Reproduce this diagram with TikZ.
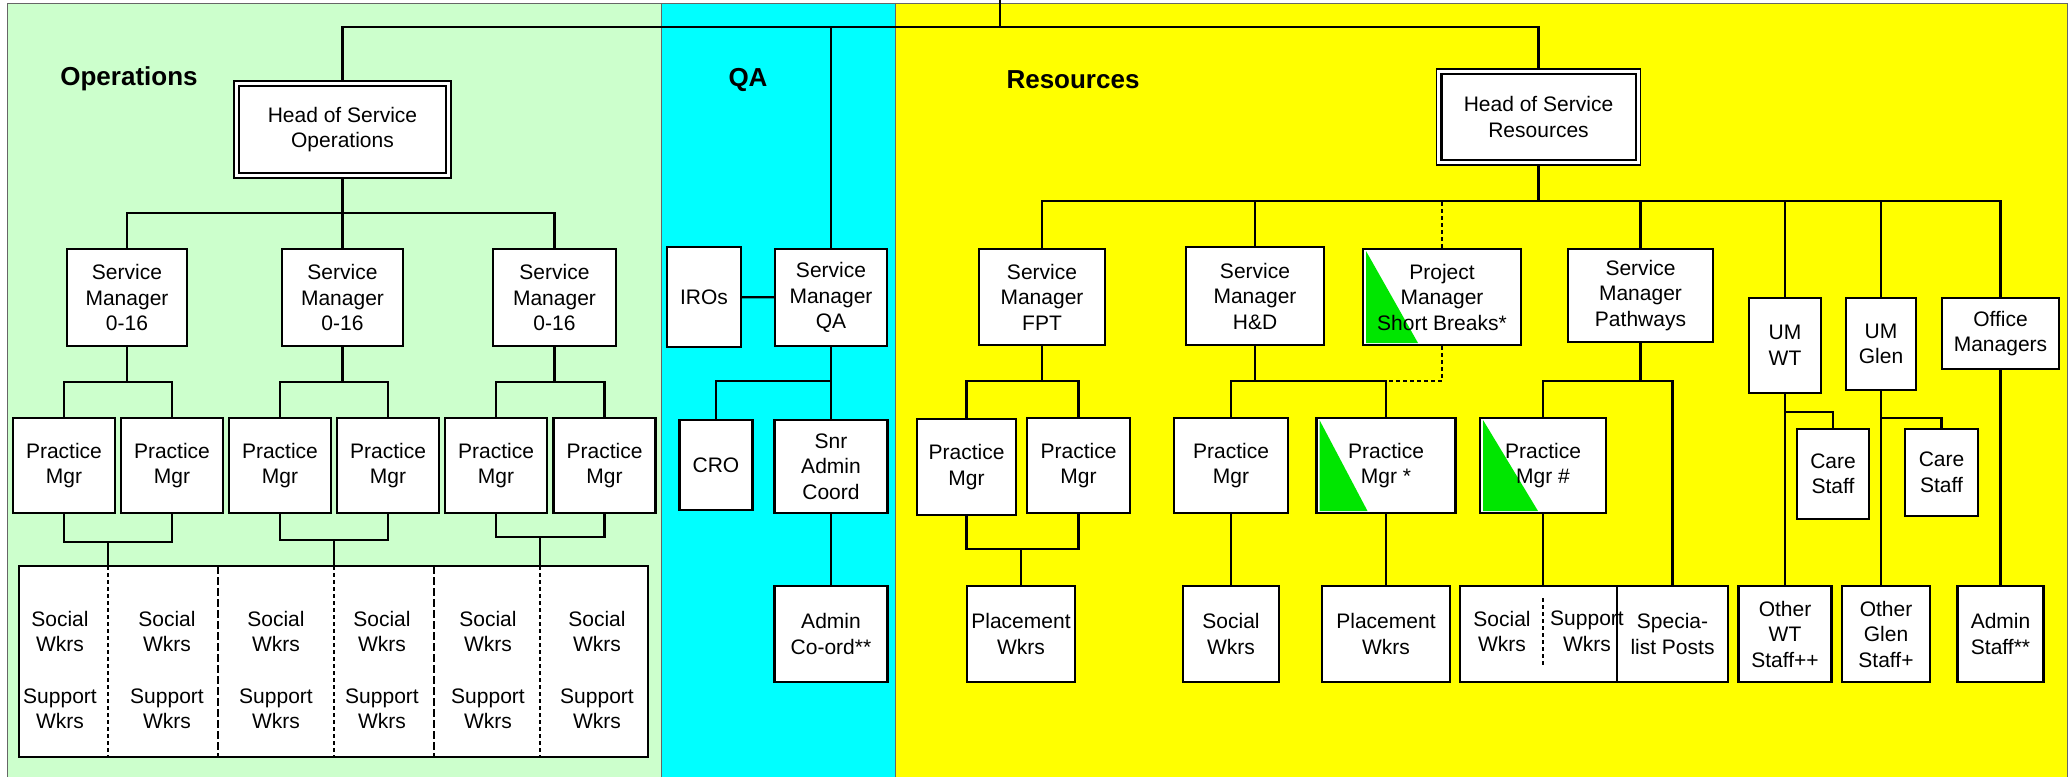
\documentclass[tikz,border=0pt]{standalone}
\usepackage{fontspec}
\setmainfont{Liberation Sans}
\usepackage{tikz}
\usetikzlibrary{positioning}
\definecolor{opsgreen}{RGB}{204,255,204}
\definecolor{qacyan}{RGB}{0,255,255}
\definecolor{resyellow}{RGB}{255,255,0}
\definecolor{partgreen}{RGB}{0,230,0}
\tikzset{
  bx/.style={draw, fill=white, align=center, inner sep=1pt, font=\fontsize{10.5}{12.75}\selectfont},
  hd/.style={bx, line width=0.6pt},
  lbl/.style={align=center, inner sep=0pt, font=\fontsize{10.5}{12.75}\selectfont},
  ttl/.style={inner sep=0pt, font=\fontsize{13}{15}\selectfont\bfseries},
  panel/.style={draw=black!60, line width=0.4pt},
  divs/.style={line width=0.7pt, dash pattern=on 2pt off 1.5pt},
  divl/.style={line width=0.8pt, dash pattern=on 4pt off 1.5pt},
  dsh/.style={dash pattern=on 2pt off 1.5pt},
  sz/.style 2 args={minimum width=#1, minimum height=#2},
  halfgreen/.style={path picture={\fill[partgreen] ([shift={(1.5pt,-1pt)}]path picture bounding box.north west) -- ([shift={(1.5pt,1pt)}]path picture bounding box.south west) -- ([shift={(#1,1pt)}]path picture bounding box.south west) -- cycle;}}
}
\begin{document}
\begin{tikzpicture}[x=0.5pt, y=-0.5pt, line width=1.1pt]
  \useasboundingbox (0,0) rectangle (2069,777);
  \fill[white] (0,0) rectangle (2069,777);
  \draw[panel, fill=opsgreen] (7,3) rectangle (661,780);
  \draw[panel, fill=qacyan] (661,3) rectangle (895.5,780);
  \draw[panel, fill=resyellow] (895.5,3) rectangle (2067,780);

  \node[ttl] (ops) at (129,79) {Operations};
  \node[ttl] (qa) at (748,80) {QA};
  \node[ttl] (res) at (1073,80) {Resources};

  \node[hd, sz={108.5pt}{48.5pt}] (hso) at (342.5,129.5) {Head of Service\\Operations};
  \draw[line width=1.2pt] ([shift={(2.7pt,-2.7pt)}]hso.north west) rectangle ([shift={(-2.7pt,2.7pt)}]hso.south east);
  \node[bx, sz={60pt}{48.5pt}] (sm1) at (127,297.5) {Service\\Manager\\0-16};
  \node[bx, sz={60.5pt}{48.5pt}] (sm2) at (342.5,297.5) {Service\\Manager\\0-16};
  \node[bx, sz={61.5pt}{48.5pt}] (sm3) at (554.5,297.5) {Service\\Manager\\0-16};
  \node[bx, sz={51pt}{47.5pt}] (pm1) at (64,465.5) {Practice\\Mgr};
  \node[bx, sz={51pt}{47.5pt}] (pm2) at (172,465.5) {Practice\\Mgr};
  \node[bx, sz={51pt}{47.5pt}] (pm3) at (280,465.5) {Practice\\Mgr};
  \node[bx, sz={51pt}{47.5pt}] (pm4) at (388,465.5) {Practice\\Mgr};
  \node[bx, sz={51pt}{47.5pt}] (pm5) at (496,465.5) {Practice\\Mgr};
  \node[bx, sz={51pt}{47.5pt}] (pm6) at (604.5,465.5) {Practice\\Mgr};
  \node[bx, sz={314.5pt}{95.5pt}] (wkops) at (333.5,661.5) {};
  \foreach \x in {108,334,540} \draw[divs] (\x,566) -- (\x,757);
  \foreach \x in {218,434} \draw[divl] (\x,566) -- (\x,757);
  \foreach \x/\n in {60/1,167/2,276/3,382/4,488/5,597/6}
    \node[lbl] (wk\n) at (\x,670) {Social\\Wkrs\\[13pt]Support\\Wkrs};

  \node[bx, sz={37pt}{50pt}] (iro) at (704,297) {IROs};
  \node[bx, sz={56pt}{48.5pt}] (smqa) at (831,297.5) {Service\\Manager\\QA};
  \node[bx, sz={36.5pt}{45pt}] (cro) at (716,465) {CRO};
  \node[bx, sz={56.5pt}{46.5pt}] (snr) at (831,466.5) {Snr\\Admin\\Coord};
  \node[bx, sz={56.5pt}{48pt}] (admco) at (831,634) {Admin\\Co-ord**};

  \node[hd, sz={102pt}{48pt}] (hsr) at (1538.5,117) {Head of Service\\Resources};
  \draw[line width=1.2pt] ([shift={(2.7pt,-2.7pt)}]hsr.north west) rectangle ([shift={(-2.7pt,2.7pt)}]hsr.south east);
  \node[bx, sz={62.75pt}{48pt}] (smfpt) at (1042,297) {Service\\Manager\\FPT};
  \node[bx, sz={69pt}{49pt}] (smhd) at (1255,296) {Service\\Manager\\H\&D};
  \node[bx, halfgreen=27.5pt, sz={79pt}{48pt}] (pjm) at (1442,297) {Project\\Manager\\Short Breaks*};
  \node[bx, sz={72.5pt}{46.5pt}] (smpw) at (1640.5,295.5) {Service\\Manager\\Pathways};
  \node[bx, sz={36pt}{47.5pt}] (umwt) at (1785,345.5) {UM\\WT};
  \node[bx, sz={35pt}{46pt}] (umgl) at (1881,344) {UM\\Glen};
  \node[bx, sz={58.5pt}{35.5pt}] (offm) at (2000.5,333.5) {Office\\Managers};

  \node[bx, sz={49.5pt}{48pt}] (pm7) at (966.5,467) {Practice\\Mgr};
  \node[bx, sz={51.5pt}{47.5pt}] (pm8) at (1078.5,465.5) {Practice\\Mgr};
  \node[bx, sz={54pt}{48pt}] (plw1) at (1021,634) {Placement\\Wkrs};
  \node[bx, sz={56.75pt}{47.5pt}] (pm9) at (1231,465.5) {Practice\\Mgr};
  \node[bx, halfgreen=25.5pt, sz={69.5pt}{47.5pt}] (pm10) at (1386,465.5) {Practice\\Mgr *};
  \node[bx, sz={48pt}{48pt}] (sw9) at (1231,634) {Social\\Wkrs};
  \node[bx, sz={64pt}{48pt}] (plw2) at (1386,634) {Placement\\Wkrs};
  \node[bx, halfgreen=29pt, sz={63pt}{47.5pt}] (pm11) at (1543,465.5) {Practice\\Mgr \#};
  \node[bx, sz={83pt}{48pt}] (sswk) at (1543,634) {};
  \node[bx, sz={55.5pt}{48pt}] (spec) at (1672.5,634) {Specia-\\list Posts};
  \draw[divs] (1543,598) -- (1543,665);
  \node[lbl] (ss1) at (1502,631.5) {Social\\Wkrs};
  \node[lbl] (ss2) at (1587,631.5) {Support\\Wkrs};
  \node[bx, sz={36.25pt}{45pt}] (care1) at (1833,474) {Care\\Staff};
  \node[bx, sz={46.5pt}{48pt}] (owt) at (1785,634) {Other\\WT\\Staff++};
  \node[bx, sz={36.5pt}{43.5pt}] (care2) at (1941.5,472.5) {Care\\Staff};
  \node[bx, sz={44pt}{48pt}] (ogl) at (1886,634) {Other\\Glen\\Staff+};
  \node[bx, sz={43pt}{48pt}] (adst) at (2000.5,634) {Admin\\Staff**};

  \coordinate (top) at (1000,0);
  \coordinate (bus) at (1000,27);
  \draw (top) -- (bus);
  \draw (hso.north) |- (bus);
  \draw (hsr.north) |- (bus);
  \draw (smqa.north) |- (bus);

  \coordinate (opsj) at (342.5,213);
  \draw (hso.south) -- (sm2.north);
  \draw (sm1.north) |- (opsj) -| (sm3.north);
  \coordinate (o1) at (127,382);
  \coordinate (o2) at (342.5,382);
  \coordinate (o3) at (554.5,382);
  \draw (sm1.south) -- (o1);
  \draw (sm2.south) -- (o2);
  \draw (sm3.south) -- (o3);
  \draw (pm1.north) |- (o1) -| (pm2.north);
  \draw (pm3.north) |- (o2) -| (pm4.north);
  \draw (pm5.north) |- (o3) -| (pm6.north);
  \coordinate (u1) at (108,542);
  \coordinate (u2) at (334,540);
  \coordinate (u3) at (540,537);
  \draw (pm1.south) |- (u1) -| (pm2.south);
  \draw (pm3.south) |- (u2) -| (pm4.south);
  \draw (pm5.south) |- (u3) -| (pm6.south);
  \draw (u1) -- (u1 |- wkops.north);
  \draw (u2) -- (u2 |- wkops.north);
  \draw (u3) -- (u3 |- wkops.north);

  \draw (iro) -- (smqa);
  \coordinate (q1) at (831,381);
  \draw (smqa.south) -- (snr.north);
  \draw (cro.north) |- (q1);
  \draw (snr.south) -- (admco.north);

  \coordinate (rj) at (1538.5,201);
  \draw (hsr.south) -- (rj);
  \draw (smfpt.north) |- (rj) -| (offm.north);
  \draw (smhd.north) |- (rj);
  \draw (smpw.north) |- (rj);
  \draw (umwt.north) |- (rj);
  \draw (umgl.north) |- (rj);
  \draw[dsh] (pjm.north) -- (pjm.north |- rj);

  \coordinate (f1) at (1042,381);
  \coordinate (f2) at (1021,549);
  \draw (smfpt.south) -- (f1);
  \draw (pm7.north) |- (f1) -| (pm8.north);
  \draw (pm7.south) |- (f2) -| (pm8.south);
  \draw (f2) -- (plw1.north);

  \coordinate (h1) at (1255,381);
  \draw (smhd.south) -- (h1);
  \draw (pm9.north) |- (h1) -| (pm10.north);
  \draw[dsh] (pjm.south) |- (pm10.north |- h1);
  \draw (pm9.south) -- (sw9.north);
  \draw (pm10.south) -- (plw2.north);

  \coordinate (p1) at (1640.5,381);
  \draw (smpw.south) -- (p1);
  \draw (pm11.north) |- (p1) -| (spec.north);
  \draw (pm11.south) -- (sswk.north);

  \coordinate (w1) at (1785,412);
  \coordinate (g1) at (1881,418);
  \draw (umwt.south) -- (owt.north);
  \draw (w1) -| (care1.north);
  \draw (umgl.south) -- (umgl.south |- ogl.north);
  \draw (g1) -| (care2.north);
  \draw (offm.south) -- (adst.north);
\end{tikzpicture}
\end{document}
